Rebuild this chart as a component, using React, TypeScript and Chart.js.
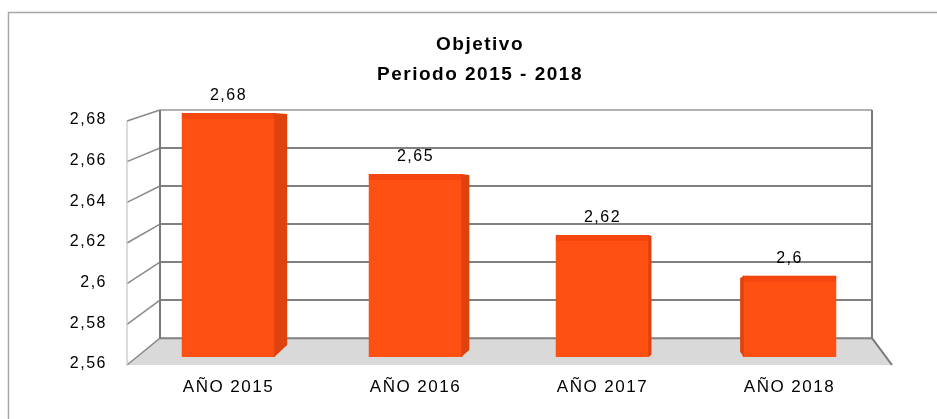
import React, { useEffect, useRef } from 'react';
import { Chart, registerables } from 'chart.js';

Chart.register(...registerables);

const categories = ['AÑO 2015', 'AÑO 2016', 'AÑO 2017', 'AÑO 2018'];
const values = [2.68, 2.65, 2.62, 2.6];
const titleLines = ['Objetivo', 'Periodo 2015 - 2018'];
const yMin = 2.56;
const yMax = 2.68;
const yStep = 0.02;

const FONT = "'Liberation Sans', Arial, sans-serif";
const fmt = (v: number) => String(Math.round(v * 100) / 100).replace('.', ',');

const spacingPlugin = {
  id: 'spacing',
  beforeLayout(chart: any) {
    chart.ctx.letterSpacing = '1.5px';
  },
  beforeDraw(chart: any) {
    chart.ctx.letterSpacing = '1.5px';
  },
};

const framePlugin = {
  id: 'frame',
  beforeDraw(chart: any) {
    const ctx = chart.ctx;
    ctx.save();
    ctx.strokeStyle = '#a6a6a6';
    ctx.lineWidth = 1.5;
    ctx.beginPath();
    ctx.moveTo(chart.width, 12.5);
    ctx.lineTo(8.5, 12.5);
    ctx.lineTo(8.5, chart.height);
    ctx.stroke();
    ctx.restore();
  },
};

const wallPlugin = {
  id: 'walls',
  beforeDatasetsDraw(chart: any) {
    const { ctx, chartArea: a, scales } = chart;
    const y = scales.y;
    const frontY = (v: number) => y.getPixelForValue(v) + 8;
    const backY = (v: number) => a.top - 3 + (y.getPixelForValue(v) - a.top) * 0.935;
    const fL = a.left - 8;
    const fR = a.right + 9;
    const bL = a.left + 25;
    const bR = a.right - 11;
    ctx.save();
    ctx.fillStyle = '#d9d9d9';
    ctx.beginPath();
    ctx.moveTo(bL, backY(yMin));
    ctx.lineTo(bR, backY(yMin));
    ctx.lineTo(fR, frontY(yMin));
    ctx.lineTo(fL, frontY(yMin));
    ctx.closePath();
    ctx.fill();
    y.ticks.forEach((t: any) => {
      const v = t.value;
      ctx.strokeStyle = v === yMax ? '#b0b0b0' : '#808080';
      ctx.lineWidth = 2;
      ctx.beginPath();
      ctx.moveTo(bL, backY(v));
      ctx.lineTo(bR, backY(v));
      ctx.stroke();
      ctx.strokeStyle = '#8a8a8a';
      ctx.lineWidth = 1.5;
      ctx.beginPath();
      ctx.moveTo(fL, frontY(v));
      ctx.lineTo(bL, backY(v));
      ctx.stroke();
    });
    ctx.strokeStyle = '#c4c4c4';
    ctx.lineWidth = 1.2;
    ctx.beginPath();
    ctx.moveTo(fL, frontY(yMax));
    ctx.lineTo(fL, frontY(yMin));
    ctx.stroke();
    ctx.strokeStyle = '#7a7a7a';
    ctx.lineWidth = 2;
    ctx.beginPath();
    ctx.moveTo(bL, backY(yMax));
    ctx.lineTo(bL, backY(yMin));
    ctx.moveTo(bR, backY(yMax));
    ctx.lineTo(bR, backY(yMin));
    ctx.lineTo(fR, frontY(yMin));
    ctx.stroke();
    ctx.restore();
  },
};

const barSidePlugin = {
  id: 'barSides',
  afterDatasetsDraw(chart: any) {
    const { ctx, chartArea: a, scales } = chart;
    const vanish = a.left + (a.right - a.left) * 0.74;
    const base = scales.y.getPixelForValue(yMin);
    const meta = chart.getDatasetMeta(0);
    ctx.save();
    meta.data.forEach((bar: any, i: number) => {
      const { x, y, width } = bar.getProps(['x', 'y', 'width'], true);
      const s = (vanish - x) * 0.026;
      ctx.fillStyle = 'rgba(220,40,0,0.25)';
      ctx.fillRect(x - width / 2, y, width, 6);
      ctx.fillStyle = '#de420e';
      ctx.beginPath();
      if (s > 0) {
        const r = x + width / 2;
        ctx.moveTo(r - 1, y);
        ctx.lineTo(r + s, y + 1);
        ctx.lineTo(r + s, base - s);
        ctx.lineTo(r - 1, base);
      } else {
        const l = x - width / 2;
        const k = -s;
        ctx.moveTo(l + 1, y);
        ctx.lineTo(l - k, y + k);
        ctx.lineTo(l - k, base - k * 2);
        ctx.lineTo(l + 1, base);
      }
      ctx.closePath();
      ctx.fill();
      ctx.fillStyle = '#000';
      ctx.font = `16px ${FONT}`;
      ctx.letterSpacing = '1.5px';
      ctx.textAlign = 'center';
      ctx.textBaseline = 'middle';
      ctx.fillText(fmt(values[i]), x, y - 17);
    });
    ctx.restore();
  },
};

export default function App() {
  const ref = useRef<HTMLCanvasElement | null>(null);
  useEffect(() => {
    if (!ref.current) return;
    Chart.defaults.font.family = FONT;
    const chart = new Chart(ref.current, {
      type: 'bar',
      data: {
        labels: categories,
        datasets: [
          {
            data: values,
            backgroundColor: '#ff5014',
            borderWidth: 0,
            barPercentage: 0.5,
            categoryPercentage: 1,
          },
        ],
      },
      options: {
        animation: false,
        responsive: true,
        maintainAspectRatio: false,
        layout: { padding: { left: 55, right: 32, top: 0, bottom: 22 } },
        plugins: {
          legend: { display: false },
          tooltip: { enabled: false },
          title: {
            display: true,
            text: titleLines,
            color: '#000',
            font: { size: 19, weight: 'bold', lineHeight: '30px', family: FONT },
            padding: { top: 30, bottom: 23 },
          },
        },
        scales: {
          x: {
            grid: { display: false, drawTicks: false },
            border: { display: false },
            ticks: { color: '#000', font: { size: 17 }, padding: 20, maxRotation: 0 },
            afterFit: (s: any) => {
              s.height = 40;
            },
          },
          y: {
            min: yMin,
            max: yMax,
            grid: { display: false, drawTicks: false },
            border: { display: false },
            ticks: {
              stepSize: yStep,
              color: '#000',
              font: { size: 16 },
              padding: 28,
              labelOffset: 7,
              callback: (v: any) => fmt(Number(v)),
            },
            afterFit: (s: any) => {
              s.width = 80;
            },
          },
          y2: {
            position: 'right',
            display: true,
            grid: { display: false, drawTicks: false },
            border: { display: false },
            ticks: { display: false },
            afterFit: (s: any) => {
              s.width = 22;
            },
          },
        },
      },
      plugins: [spacingPlugin, framePlugin, wallPlugin, barSidePlugin],
    } as any);
    return () => chart.destroy();
  }, []);
  return (
    <div style={{ position: 'fixed', left: 0, top: 0, width: 937, height: 419, background: '#fff' }}>
      <canvas ref={ref} />
    </div>
  );
}
